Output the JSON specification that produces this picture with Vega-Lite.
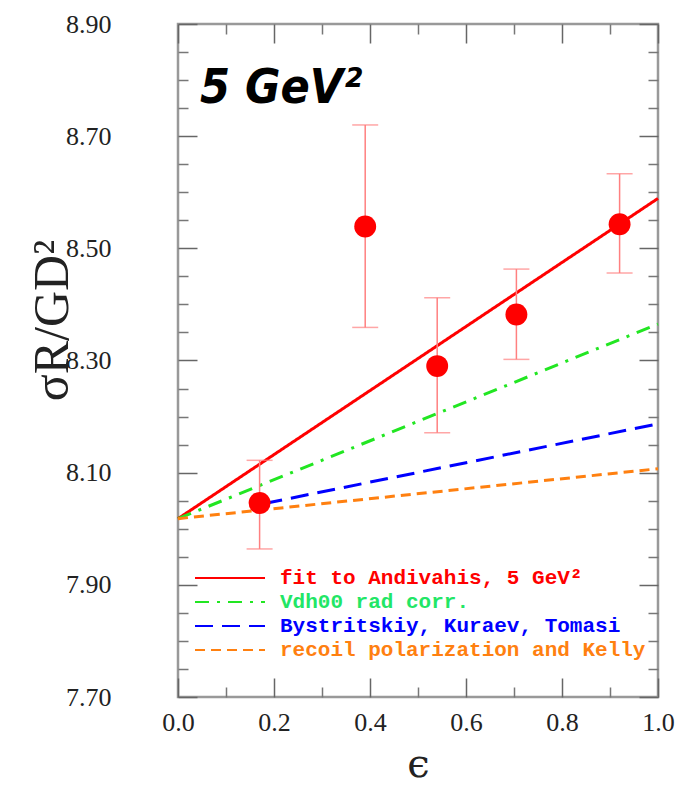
{
  "$schema": "https://vega.github.io/schema/vega-lite/v6.json",
  "width": 480,
  "height": 673,
  "autosize": "none",
  "padding": {"left": 178, "top": 24, "right": 25, "bottom": 88},
  "background": "white",
  "title": {"text": "5 GeV²", "anchor": "start", "frame": "group", "orient": "top", "offset": 0, "dx": 22, "dy": 140, "baseline": "alphabetic", "font": "DejaVu Sans Condensed", "fontWeight": "bold", "fontStyle": "italic", "fontSize": 48, "color": "#000"},
  "config": {
    "view": {"stroke": "#999", "strokeWidth": 2.5},
    "axis": {"domain": false, "grid": false, "tickColor": "#666", "tickWidth": 1.5, "tickCap": "butt"}
  },
  "datasets": {
    "lines": [
      {"series": "fit to Andivahis, 5 GeV²", "x": 0, "y": 8.018},
      {"series": "fit to Andivahis, 5 GeV²", "x": 1, "y": 8.589},
      {"series": "Vdh00 rad corr.", "x": 0, "y": 8.018},
      {"series": "Vdh00 rad corr.", "x": 1, "y": 8.365},
      {"series": "Bystritskiy, Kuraev, Tomasi", "x": 0.18, "y": 8.045},
      {"series": "Bystritskiy, Kuraev, Tomasi", "x": 1, "y": 8.187},
      {"series": "recoil polarization and Kelly", "x": 0, "y": 8.018},
      {"series": "recoil polarization and Kelly", "x": 1, "y": 8.107}
    ],
    "points": [
      {"eps": 0.17, "ratio": 8.046, "lo": 7.964, "hi": 8.122},
      {"eps": 0.39, "ratio": 8.539, "lo": 8.359, "hi": 8.720},
      {"eps": 0.54, "ratio": 8.290, "lo": 8.171, "hi": 8.412},
      {"eps": 0.705, "ratio": 8.382, "lo": 8.302, "hi": 8.463},
      {"eps": 0.92, "ratio": 8.543, "lo": 8.456, "hi": 8.633}
    ]
  },
  "resolve": {"axis": {"x": "independent", "y": "independent"}},
  "layer": [
    {
      "data": {"name": "lines"},
      "mark": {"type": "line", "strokeWidth": 3},
      "encoding": {
        "x": {"field": "x", "type": "quantitative", "scale": {"domain": [0, 1], "nice": false, "zero": false},
          "axis": {"orient": "bottom", "values": [0, 0.2, 0.4, 0.6, 0.8, 1], "format": ".1f", "ticks": false, "labelPadding": 12, "labelFont": "Liberation Serif", "labelFontSize": 26, "labelColor": "#222", "labelFlush": false,
            "title": "ϵ", "titleFont": "DejaVu Serif", "titleFontSize": 40, "titleFontWeight": "normal", "titleColor": "#222", "titleX": 240, "titleY": 67, "titleBaseline": "middle"}},
        "y": {"field": "y", "type": "quantitative", "scale": {"domain": [7.7, 8.9], "nice": false, "zero": false},
          "axis": {"orient": "left", "values": [7.7, 7.9, 8.1, 8.3, 8.5, 8.7, 8.9], "format": ".2f", "ticks": false, "labelPadding": 67, "labelFont": "Liberation Serif", "labelFontSize": 26, "labelColor": "#222", "labelFlush": false,
            "title": "σR/GD²", "titleFont": "Liberation Serif", "titleFontSize": 50, "titleFontWeight": "normal", "titleColor": "#222", "titleAngle": -90, "titleX": -126, "titleY": 296, "titleAlign": "center", "titleBaseline": "middle"}},
        "color": {"field": "series", "type": "nominal",
          "scale": {"domain": ["fit to Andivahis, 5 GeV²", "Vdh00 rad corr.", "Bystritskiy, Kuraev, Tomasi", "recoil polarization and Kelly"], "range": ["#ff0000", "#22e622", "#0000ff", "#ff8010"]},
          "legend": {"orient": "none", "legendX": 16, "legendY": 544, "title": null, "symbolType": "stroke", "symbolSize": 4900, "symbolStrokeWidth": 2, "clipHeight": 20, "labelFont": "Liberation Mono", "labelFontWeight": "bold", "labelFontSize": 21, "labelOffset": 14, "rowPadding": 3,
            "labelColor": {"expr": "datum.label == 'Vdh00 rad corr.' ? '#22e666' : datum.label == 'Bystritskiy, Kuraev, Tomasi' ? '#0000ff' : datum.label == 'recoil polarization and Kelly' ? '#ff8010' : '#ff0000'"}, "labelLimit": 500}},
        "strokeDash": {"field": "series", "type": "nominal",
          "scale": {"domain": ["fit to Andivahis, 5 GeV²", "Vdh00 rad corr.", "Bystritskiy, Kuraev, Tomasi", "recoil polarization and Kelly"], "range": [[1, 0], [14, 8, 3, 8], [18, 9], [10, 6]]},
          "legend": {"orient": "none", "legendX": 16, "legendY": 544, "title": null, "symbolType": "stroke", "symbolSize": 4900, "symbolStrokeWidth": 2, "clipHeight": 20, "labelFont": "Liberation Mono", "labelFontWeight": "bold", "labelFontSize": 21, "labelOffset": 14, "rowPadding": 3,
            "labelColor": {"expr": "datum.label == 'Vdh00 rad corr.' ? '#22e666' : datum.label == 'Bystritskiy, Kuraev, Tomasi' ? '#0000ff' : datum.label == 'recoil polarization and Kelly' ? '#ff8010' : '#ff0000'"}, "labelLimit": 500}}
      }
    },
    {
      "data": {"name": "points"},
      "mark": {"type": "rule", "color": "#ff8080", "strokeWidth": 1.5},
      "encoding": {
        "x": {"field": "eps", "type": "quantitative", "scale": {"domain": [0, 1], "nice": false, "zero": false},
          "axis": {"orient": "bottom", "values": [0, 0.2, 0.4, 0.6, 0.8, 1], "labels": false, "tickSize": 19, "offset": -19, "title": null}},
        "y": {"field": "lo", "type": "quantitative", "scale": {"domain": [7.7, 8.9], "nice": false, "zero": false},
          "axis": {"orient": "left", "values": [7.7, 7.9, 8.1, 8.3, 8.5, 8.7, 8.9], "labels": false, "tickSize": 19, "offset": -19, "title": null}},
        "y2": {"field": "hi"}
      }
    },
    {
      "data": {"name": "points"},
      "mark": {"type": "tick", "orient": "horizontal", "color": "#ff8080", "thickness": 1.5, "size": 26},
      "encoding": {
        "x": {"field": "eps", "type": "quantitative", "scale": {"domain": [0, 1], "nice": false, "zero": false},
          "axis": {"orient": "top", "values": [0, 0.2, 0.4, 0.6, 0.8, 1], "labels": false, "tickSize": 19, "offset": -19, "title": null}},
        "y": {"field": "hi", "type": "quantitative", "scale": {"domain": [7.7, 8.9], "nice": false, "zero": false},
          "axis": {"orient": "right", "values": [7.7, 7.9, 8.1, 8.3, 8.5, 8.7, 8.9], "labels": false, "tickSize": 19, "offset": -19, "title": null}}
      }
    },
    {
      "data": {"name": "points"},
      "mark": {"type": "tick", "orient": "horizontal", "color": "#ff8080", "thickness": 1.5, "size": 26},
      "encoding": {
        "x": {"field": "eps", "type": "quantitative", "scale": {"domain": [0, 1], "nice": false, "zero": false},
          "axis": {"orient": "bottom", "values": [0.1, 0.3, 0.5, 0.7, 0.9], "labels": false, "tickSize": 10, "offset": -10, "tickColor": "#777", "title": null}},
        "y": {"field": "lo", "type": "quantitative", "scale": {"domain": [7.7, 8.9], "nice": false, "zero": false},
          "axis": {"orient": "left", "values": [7.75, 7.8, 7.85, 7.95, 8.0, 8.05, 8.15, 8.2, 8.25, 8.35, 8.4, 8.45, 8.55, 8.6, 8.65, 8.75, 8.8, 8.85], "labels": false, "tickSize": 10, "offset": -10, "tickColor": "#777", "title": null}}
      }
    },
    {
      "data": {"name": "points"},
      "mark": {"type": "circle", "color": "#ff0000", "opacity": 1, "size": 480},
      "encoding": {
        "x": {"field": "eps", "type": "quantitative", "scale": {"domain": [0, 1], "nice": false, "zero": false},
          "axis": {"orient": "top", "values": [0.1, 0.3, 0.5, 0.7, 0.9], "labels": false, "tickSize": 10, "offset": -10, "tickColor": "#777", "title": null}},
        "y": {"field": "ratio", "type": "quantitative", "scale": {"domain": [7.7, 8.9], "nice": false, "zero": false},
          "axis": {"orient": "right", "values": [7.75, 7.8, 7.85, 7.95, 8.0, 8.05, 8.15, 8.2, 8.25, 8.35, 8.4, 8.45, 8.55, 8.6, 8.65, 8.75, 8.8, 8.85], "labels": false, "tickSize": 10, "offset": -10, "tickColor": "#777", "title": null}}
      }
    }
  ]
}
